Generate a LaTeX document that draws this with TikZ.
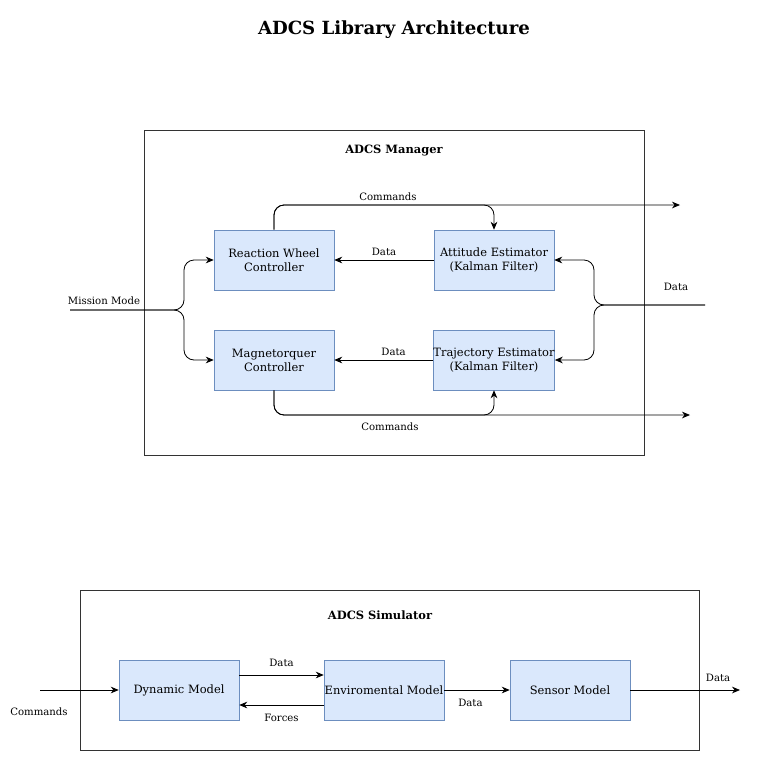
\documentclass[tikz,border=0pt]{standalone}
\usepackage{fontspec}
\setmainfont{DejaVu Serif}
\usetikzlibrary{arrows.meta}

\definecolor{boxfill}{HTML}{DAE8FC}
\definecolor{boxline}{HTML}{6C8EBF}

\tikzset{
  block/.style={draw=boxline, fill=boxfill, minimum width=90pt, minimum height=45pt,
                align=center, font=\fontsize{8.6}{10.5}\selectfont, inner sep=0pt},
  frame/.style={draw=black!80, line width=0.6pt},
  lbl/.style={font=\fontsize{7.6}{9}\selectfont},
  hdr/.style={font=\fontsize{8.6}{10}\selectfont\bfseries},
  link/.style={-{Stealth[length=6pt,width=5pt]}, rounded corners=7.5pt, line width=0.6pt}
}

\begin{document}
\begin{tikzpicture}[x=0.75pt, y=-0.75pt]
            \useasboundingbox (0,0) rectangle (758,761);
            \node[font=\fontsize{13.6}{16}\selectfont\bfseries] (title) at (394,30) {ADCS Library Architecture};

            % manager
            \draw[frame] (144,130) rectangle (644,455);
            \node[hdr] (mgr) at (394,151) {ADCS Manager};
            \node[block] (rwc) at (274,260) {Reaction Wheel\\Controller};
            \node[block] (ae) at (494,260) {Attitude Estimator\\(Kalman Filter)};
            \node[block] (mc) at (274,360) {Magnetorquer\\Controller};
            \node[block] (te) at (494,360) {Trajectory Estimator\\(Kalman Filter)};
            \coordinate (mm) at (70,310);
            \coordinate (din) at (705,305);
            \coordinate (cmdup) at (680,205);
            \coordinate (cmddn) at (690,415);

            \draw[link] (mm) -- (184,310) |- (rwc.west);
            \draw[link] (mm) -- (184,310) |- (mc.west);
            \node[lbl] (mmlbl) at (104,301) {Mission Mode};
            \draw[link] (din) -- (594,305) |- (ae.east);
            \draw[link] (din) -- (594,305) |- (te.east);
            \node[lbl] (dinlbl) at (676,287) {Data};
            \draw[link] (ae.west) -- (rwc.east) node[lbl, above, pos=0.5] {Data};
            \draw[link] (te.west) -- (mc.east) node[lbl, above, pos=0.4] {Data};
            \draw[link] (rwc.north) |- (cmdup);
            \draw[link] (rwc.north) |- (494,205) -- (ae.north);
            \node[lbl] (cmduplbl) at (388,197) {Commands};
            \draw[link] (mc.south) |- (cmddn);
            \draw[link] (mc.south) |- (494,415) -- (te.south);
            \node[lbl] (cmddnlbl) at (390,427) {Commands};

            % simulator
            \draw[frame] (80,590) rectangle (699,750);
            \node[hdr] (sim) at (380,615) {ADCS Simulator};
            \node[block] (dyn) at (179,690) {Dynamic Model};
            \node[block] (env) at (384,690) {Enviromental Model};
            \node[block] (sen) at (570,690) {Sensor Model};
            \coordinate (cin) at (40,690);
            \coordinate (dout) at (740,690);
            \draw[link] (cin) -- (dyn.west);
            \node[lbl] (cinlbl) at (39,712) {Commands};
            \draw[link] (dyn.east |- 0,675) -- (env.west |- 0,675) node[lbl, above=3pt, pos=0.5] {Data};
            \draw[link] (env.west |- 0,705) -- (dyn.east |- 0,705) node[lbl, below=3pt, pos=0.5] {Forces};
            \draw[link] (env.east) -- (sen.west) node[lbl, below=3pt, pos=0.4] {Data};
            \draw[link] (sen.east) -- (dout) node[lbl, above=3pt, pos=0.8] {Data};
\end{tikzpicture}
\end{document}
